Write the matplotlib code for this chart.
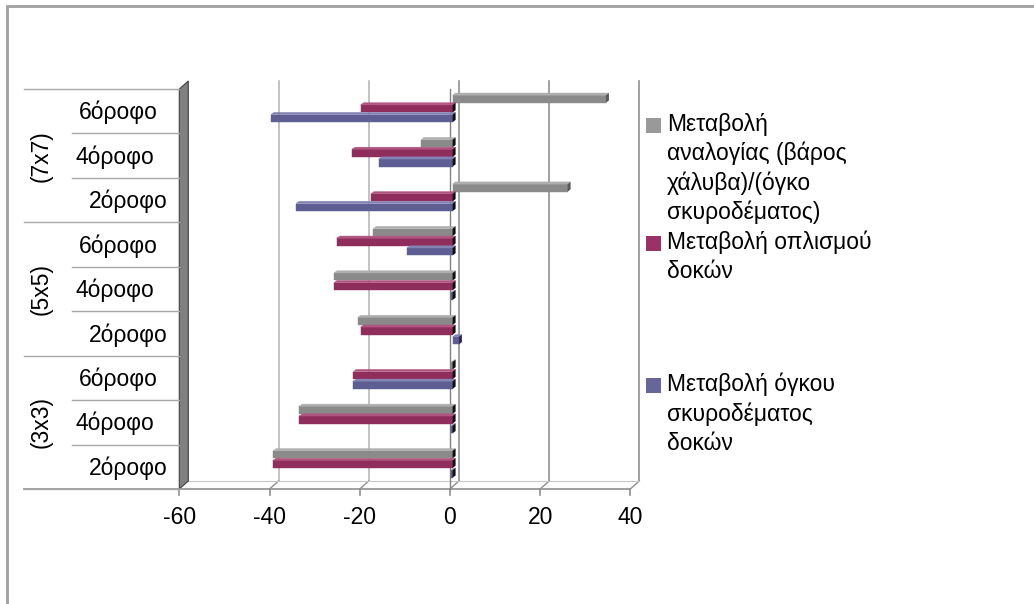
import matplotlib
matplotlib.use("Agg")
import matplotlib.pyplot as plt
from matplotlib.patches import Polygon, Rectangle
from matplotlib import transforms

plt.rcParams['font.family'] = ['Liberation Sans', 'DejaVu Sans']

# Categories, bottom to top
groups = ["(3x3)", "(5x5)", "(7x7)"]
floors = ["2όροφο", "4όροφο", "6όροφο"]

# Percentage changes per category (3x3: 2,4,6 | 5x5: 2,4,6 | 7x7: 2,4,6)
ratio_change = [-39.8, -34.0, -0.3, -21.0, -26.3, -17.6, 25.5, -7.0, 34.0]
rebar_change = [-39.8, -34.0, -22.0, -20.4, -26.3, -25.7, -18.1, -22.3, -20.4]
concrete_change = [-0.3, -0.3, -22.0, 1.4, -0.3, -10.1, -34.7, -16.4, -40.3]

series_labels = [
    "Μεταβολή\nαναλογίας (βάρος\nχάλυβα)/(όγκο\nσκυροδέματος)",
    "Μεταβολή οπλισμού\nδοκών",
    "Μεταβολή όγκου\nσκυροδέματος\nδοκών",
]

x_ticks = [-60, -40, -20, 0, 20, 40]

W, H = 1034, 604
fig = plt.figure(figsize=(W / 100, H / 100), dpi=100)

# Outer chart frame (left and top edges visible)
fig.add_artist(Rectangle((7 / W, -0.05), 1.2, (604 - 6) / H + 0.05,
                         transform=fig.transFigure, fill=False,
                         edgecolor="#a0a0a0", linewidth=2))

# Front plane of the plot area in pixels
x0_px, x1_px = 179.3, 630.3
ytop_px, ybot_px = 89, 489
ax = fig.add_axes([x0_px / W, (H - ybot_px) / H, (x1_px - x0_px) / W, (ybot_px - ytop_px) / H])
ax.set_xlim(-60, 40)
ax.set_ylim(-0.5, 8.5)
ax.axis("off")

n = len(ratio_change)
ux = 100 / (x1_px - x0_px)          # data units per pixel (x)
uy = 9 / (ybot_px - ytop_px)        # data units per pixel (y)
DX, DY = 9 * ux, 8 * uy             # depth of the back wall

# Back wall gridlines and floor edges
for t in x_ticks[1:]:
    col = "#b8b8b8" if t < 0 else "#909090"
    ax.plot([t + DX, t + DX], [-0.5 + DY, 8.5 + DY], color=col, lw=1.2, clip_on=False, zorder=1)
    ax.plot([t, t + DX], [-0.5, -0.5 + DY], color="#909090", lw=1, clip_on=False, zorder=1)
# Floor back edge
ax.plot([-60 + DX, 40 + DX], [-0.5 + DY, -0.5 + DY], color="#c8c8c8", lw=0.8, clip_on=False, zorder=1)

# Left side wall
ax.add_patch(Polygon([(-60, -0.5), (-60, 8.5), (-60 + DX, 8.5 + DY), (-60 + DX, -0.5 + DY)],
                     closed=True, facecolor="#808080", edgecolor="#404040", lw=0.8,
                     clip_on=False, zorder=2))

# Front floor edge and tick marks
ax.plot([-60 - 155 * ux, 40], [-0.5, -0.5], color="#909090", lw=1.2, clip_on=False, zorder=3)
for t in x_ticks:
    ax.plot([t, t], [-0.5, -0.5 - 6 * uy], color="#909090", lw=1.2, clip_on=False, zorder=3)
    ax.text(t, -0.5 - 17 * uy, f"{t}", ha="center", va="top", fontsize=16.5, color="#000000")

# Zero axis line on the front plane
ax.plot([0, 0], [-0.5, 8.5], color="#808080", lw=1, clip_on=False, zorder=3)

# Category separators and labels on the left
for k in range(n + 1):
    y = k - 0.5
    start = 24 if k % 3 == 0 else 72
    ax.plot([-60 - (x0_px - start) * ux, -60], [y, y], color="#a8a8a8", lw=1,
            clip_on=False, zorder=3)
label_x = {"2όροφο": 128, "4όροφο": 115, "6όροφο": 118}
for i in range(n):
    lab = floors[i % 3]
    ax.text(-60 - (x0_px - label_x[lab]) * ux, i - 0.03, lab, ha="center", va="center",
            fontsize=16.5, color="#000000")
for g, name in enumerate(groups):
    ax.text(-60 - (x0_px - 41) * ux, 3 * g + 1, name, ha="center", va="center",
            rotation=90, fontsize=16.5, color="#000000")

# 3D-style bars
bar_shift = transforms.offset_copy(ax.transData, fig=fig, x=2.7, y=0, units="dots")
front_h = 7.5 * uy
ddx, ddy = 3.0 * ux, 2.2 * uy
step = 9.7 * uy
styles = [  # (front, top, end face)
    ("#8a8a8a", "#aeaeae", "#5a5a5a"),
    ("#8f2d5d", "#b0557f", "#4a1530"),
    ("#5e5e93", "#8282b3", "#2a2a50"),
]
series = [ratio_change, rebar_change, concrete_change]
base_offsets = [-0.245 + 2 * step, -0.245 + step, -0.245]


def bar3d(v, yb, front, top, side):
    lo, hi = min(0, v), max(0, v)
    yt = yb + front_h
    ax.add_patch(Polygon([(lo, yb), (hi, yb), (hi, yt), (lo, yt)], closed=True,
                         facecolor=front, edgecolor=front, lw=0.3, transform=bar_shift, zorder=5))
    ax.add_patch(Polygon([(lo, yt), (hi, yt), (hi + ddx, yt + ddy), (lo + ddx, yt + ddy)],
                         closed=True, facecolor=top, edgecolor=top, lw=0.3, transform=bar_shift, zorder=5))
    end_col = "#111111" if v <= 0 else side
    ax.add_patch(Polygon([(hi, yb), (hi, yt), (hi + ddx, yt + ddy), (hi + ddx, yb + ddy)],
                         closed=True, facecolor=end_col, edgecolor="none", transform=bar_shift, zorder=6))


for s, vals in enumerate(series):
    front, top, side = styles[s]
    for i, v in enumerate(vals):
        bar3d(v, i + base_offsets[s], front, top, side)

# Legend
legend_colors = ["#999999", "#993366", "#666699"]
legend_y = [125, 243, 385]
for lab, col, ly in zip(series_labels, legend_colors, legend_y):
    fig.add_artist(Rectangle((646 / W, (H - ly - 7.5) / H), 15 / W, 15 / H,
                             transform=fig.transFigure, facecolor=col, edgecolor="none"))
    fig.text(667 / W, (H - ly + 12) / H, lab, ha="left", va="top", fontsize=16.5,
             linespacing=1.32, color="#000000")

fig.savefig("out.png", dpi=100, facecolor="white")
